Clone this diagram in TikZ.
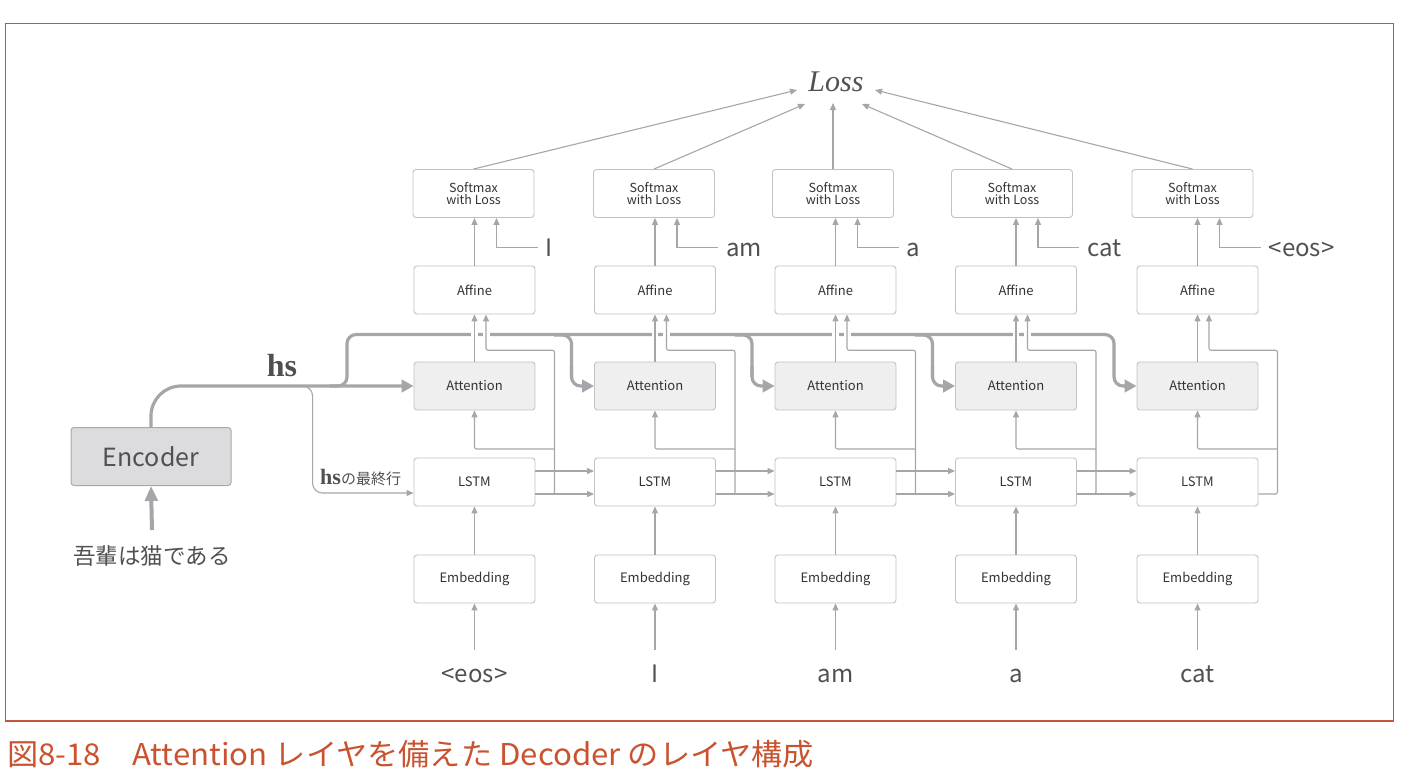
\documentclass[tikz,border=0pt]{standalone}
\usepackage{fontspec}
\setmainfont{Noto Sans CJK JP}
\newfontfamily\srf{Liberation Serif}
\usetikzlibrary{arrows.meta,calc}
\definecolor{lnc}{HTML}{A6A6AA}
\definecolor{boxc}{HTML}{C2C2C4}
\definecolor{attf}{HTML}{EFEFEF}
\definecolor{encf}{HTML}{DCDCDE}
\definecolor{encd}{HTML}{A9A9AB}
\definecolor{txt}{HTML}{333333}
\definecolor{lab}{HTML}{505050}
\definecolor{framec}{HTML}{C2553B}
\definecolor{capc}{HTML}{C9532F}
\begin{document}
\begin{tikzpicture}[x=1pt,y=-1pt,
  box/.style={draw=boxc,line width=0.9pt,rounded corners=3pt,minimum width=121pt,minimum height=48pt,inner sep=0pt,fill=white,text=txt,font=\fontsize{13}{13}\selectfont,align=center},
  attbox/.style={box,fill=attf},
  smbox/.style={box,font=\fontsize{12.5}{12}\selectfont},
  ln/.style={draw=lnc,line width=1.1pt},
  arr/.style={ln,-{Triangle[length=7pt,width=6pt]}},
  bus/.style={draw=lnc,line width=3.2pt},
  busarr/.style={bus,-{Triangle[length=12pt,width=12.5pt]}},
  word/.style={inner sep=0pt,text=lab,font=\fontsize{24}{24}\selectfont,text height=17pt,text depth=0pt},
]
\useasboundingbox (0,0) rectangle (1408,782);
\draw[framec,line width=1.3pt] (5.5,23.5) rectangle (1393.5,721);

% loss
\node[font=\srf\itshape\fontsize{30}{30}\selectfont,text=lab] (loss) at (836,82) {Loss};
\coordinate (l1) at (797,90);
\coordinate (l2) at (805,104);
\coordinate (l3) at (833,103);
\coordinate (l4) at (862,104);
\coordinate (l5) at (875,90);

% encoder side
\node[draw=encd,fill=encf,line width=1pt,rounded corners=3pt,minimum width=160pt,minimum height=58pt,text=lab,font=\fontsize{25}{25}\selectfont] (enc) at (151,456.5) {Encoder};
\node[text=lab,font=\fontsize{22.5}{22.5}\selectfont,inner sep=0pt] (jp) at (152,556) {吾輩は猫である};
\draw[draw=lnc,line width=4pt,-{Triangle[length=15pt,width=12.5pt]}] ($(jp.center)+(0,-26)$) -- (enc.south);
\node[font=\srf\bfseries\fontsize{32}{32}\selectfont,text=lab] (hs) at (282,366) {hs};
\node[anchor=west,inner sep=0pt,text=lab] (hsl) at (320,477) {{\srf\bfseries\fontsize{22}{22}\selectfont hs}{\fontsize{15}{15}\selectfont の最終行}};

% columns
\foreach \i/\x/\s/\win/\wout in {1/474.5/473.5/{<eos>}/I,2/655/654/I/am,3/835.5/833/am/a,4/1016/1012/a/cat,5/1197.5/1192.5/cat/{<eos>}}{
  \node[smbox] (sm\i) at (\s,193.5) {Softmax\\with Loss};
  \node[box] (af\i) at (\x,290) {Affine};
  \node[attbox] (at\i) at (\x,386) {Attention};
  \node[box] (ls\i) at (\x,482) {LSTM};
  \node[box] (em\i) at (\x,579) {Embedding};
  \node[word] (w\i) at (\x,674) {\win};
  \node[word,anchor=west] (lb\i) at ($(af\i.north)+(71,-18)$) {\wout};
}

% hs bus
\draw[busarr,rounded corners=30pt] (enc.north) |- (at1.west);
\draw[bus,rounded corners=9pt] ($(at1.west)+(-84,0)$) -| ($(at1.north)+(-127.5,-27)$) -| ($(at5.west)+(-22.5,0)$) -- ($(at5.west)+(-12,0)$);
\draw[busarr] ($(at5.west)+(-13,0)$) -- (at5.west);
\foreach \i in {2,3,4}{
  \draw[bus,rounded corners=9pt] ($(at\i.west)+(-40,-51)$) -| ($(at\i.west)+(-22.5,-6)$) -- ($(at\i.west)+(-22.5,-9)$);
  \draw[busarr,rounded corners=9pt] ($(at\i.west)+(-22.5,-20)$) |- (at\i.west);
}
% last-row branch
\draw[arr,rounded corners=10pt] ($(at1.west)+(-118,0)$) -| ($(ls1.west)+(-101,11)$) -- ($(ls1.west)+(0,11)$);

\foreach \i in {1,...,5}{
  % gaps in the bus
  \draw[white,line width=6.5pt] ($(af\i.south)+(0,17)$) -- ($(af\i.south)+(0,25)$);
  \draw[white,line width=7pt] ($(af\i.south)+(11.5,17)$) -- ($(af\i.south)+(11.5,25)$);
  % vertical flow
  \draw[arr] ($(w\i.center)+(0,-24)$) -- (em\i.south);
  \draw[arr] (em\i) -- (ls\i);
  \draw[arr] (at\i) -- (af\i);
  \draw[arr] (af\i.north) -- (af\i.north |- sm\i.south);
  \draw[arr] (sm\i.north) -- (l\i);
  % label
  \draw[arr] ($(lb\i.west)+(-8,0)$) -| ($(af\i.north |- sm\i.south)+(22,0)$);
  % hidden state to attention and affine
  \draw[arr,rounded corners=2pt] ($(ls\i.east)+(0,12)$) -| ($(at\i.north)+(80,-11.3)$) -| ($(af\i.south)+(11.5,0)$);
  \draw[arr,rounded corners=2pt] ($(ls\i.center)+(80,-33)$) -| (at\i.south);
}
\foreach \i/\j in {1/2,2/3,3/4,4/5}{
  \draw[arr] ($(ls\i.east)+(0,-11)$) -- ($(ls\j.west)+(0,-11)$);
  \draw[arr] ($(ls\i.east)+(0,12)$) -- ($(ls\j.west)+(0,12)$);
}

% caption
\node[anchor=west,inner sep=0pt,text=capc,font=\fontsize{30}{30}\selectfont] (cap) at (7,754) {\scalebox{1.04}[1]{図8-18　Attention レイヤを備えた Decoder のレイヤ構成}};
\end{tikzpicture}
\end{document}
